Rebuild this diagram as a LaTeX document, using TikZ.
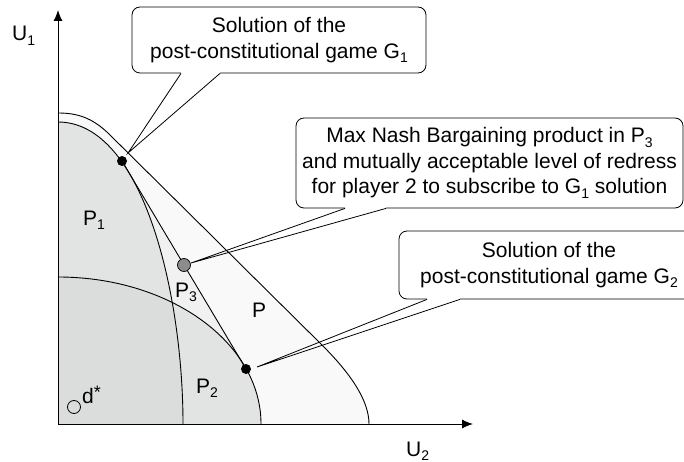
\documentclass[tikz,border=0pt]{standalone}
\usepackage{fontspec}
\setmainfont{Liberation Sans}
\usetikzlibrary{arrows.meta}
\newcommand\sbs[1]{\raisebox{-4.5pt}{\fontsize{14}{14}\selectfont #1}}
\newcommand\sps[1]{\raisebox{5pt}{\fontsize{18}{18}\selectfont #1}}
\definecolor{colP}{RGB}{249,249,249}
\definecolor{colA}{RGB}{226,227,227}
\definecolor{colOv}{RGB}{219,220,220}
\definecolor{colPthree}{RGB}{241,241,241}
\definecolor{colDot}{RGB}{140,140,140}
\begin{document}
\begin{tikzpicture}[x=1pt,y=-1pt,
  curve/.style={line width=0.9pt},
  axis/.style={line width=1pt,-{Latex[length=11pt,width=9pt]}},
  bigfont/.style={font=\fontsize{21}{25.5}\selectfont},
  callbox/.style={draw,line width=0.8pt,rounded corners=8pt,fill=white,align=center,inner sep=0pt,bigfont},
  pointer/.style={line width=0.8pt},
  gapline/.style={white,line width=2pt},
  soldot/.style={circle,fill=black,inner sep=0pt,minimum size=10pt},
  graydot/.style={circle,fill=colDot,draw=black,line width=0.7pt,inner sep=0pt,minimum size=13pt},
  opendot/.style={circle,draw=black,line width=0.8pt,inner sep=0pt,minimum size=13pt},
  lbl/.style={anchor=base west,inner sep=0pt,bigfont}]
\useasboundingbox (0,0) rectangle (684,462);
% coordinates
\coordinate (O) at (58,424);
\coordinate (ytip) at (58,10);
\coordinate (xtip) at (473,424);
\coordinate (d1) at (122,161);
\coordinate (d2) at (246,369);
\coordinate (gm) at (184,265);
% region P
\fill[colP] (O) -- (58,113) .. controls (78,113) and (92,118) .. (108,133) -- (322,345) .. controls (350,373) and (369,400) .. (369,424) -- cycle;
% region P3 (rest covered by P1, P2)
\fill[colPthree] (d1) -- (d2) -- (246,424) -- (58,424) -- (58,161) -- cycle;
% P1 and P2
\fill[colA] (O) -- (58,122) .. controls (143,122) and (183,294) .. (183,424) -- cycle;
\fill[colA] (O) -- (58,277) arc[start angle=-90,end angle=0,x radius=203,y radius=147] -- cycle;
\begin{scope}
  \clip (O) -- (58,122) .. controls (143,122) and (183,294) .. (183,424) -- cycle;
  \fill[colOv] (O) -- (58,277) arc[start angle=-90,end angle=0,x radius=203,y radius=147] -- cycle;
\end{scope}
% boundaries
\draw[curve] (58,113) .. controls (78,113) and (92,118) .. (108,133) -- (322,345) .. controls (350,373) and (369,400) .. (369,424);
\draw[curve] (58,122) .. controls (143,122) and (183,294) .. (183,424);
\draw[curve] (58,277) arc[start angle=-90,end angle=0,x radius=203,y radius=147];
\draw[curve] (d1) -- (d2);
% axes
\draw[axis] (O) -- (ytip);
\draw[axis] (O) -- (xtip);
\node[lbl] (u1) at (12,41) {U\sbs{1}};
\node[lbl] (u2) at (406,456) {U\sbs{2}};
% region labels
\node[lbl] (lp1) at (83,225) {P\sbs{1}};
\node[lbl] (lp3) at (175,297) {P\sbs{3}};
\node[lbl] (lp) at (252,317) {P};
\node[lbl] (lp2) at (196,393) {P\sbs{2}};
\node[opendot] (dstar) at (74,407) {};
\node[lbl] (ldstar) at (82,403) {d\sps{*}};
% callouts
\node[callbox,minimum width=294pt,minimum height=66pt] (box1) at (279,40) {Solution of the\\post-constitutional game G\sbs{1}};
\node[callbox,minimum width=387pt,minimum height=90pt] (box2) at (489.5,163) {Max Nash Bargaining product in P\sbs{3}\\and mutually acceptable level of redress\\for player 2 to subscribe to G\sbs{1} solution};
\node[callbox,minimum width=300pt,minimum height=68pt] (box3) at (549,265) {Solution of the\\post-constitutional game G\sbs{2}};
\coordinate (t1) at (128,153);
\coordinate (t2) at (191,263);
\coordinate (t3) at (257,367);
\coordinate (a1) at (181,0 |- box1.south);
\coordinate (b1) at (220,0 |- box1.south);
\coordinate (a2) at (345,0 |- box2.south);
\coordinate (b2) at (386,0 |- box2.south);
\coordinate (a3) at (427,0 |- box3.south);
\coordinate (b3) at (460,0 |- box3.south);
\draw[gapline] (a1) -- (b1);
\draw[gapline] (a2) -- (b2);
\draw[gapline] (a3) -- (b3);
\draw[pointer] (a1) -- (t1) -- (b1);
\draw[pointer] (a2) -- (t2) -- (b2);
\draw[pointer] (a3) -- (t3) -- (b3);
% dots
\node[soldot] (s1) at (d1) {};
\node[soldot] (s2) at (d2) {};
\node[graydot] (g) at (gm) {};
\end{tikzpicture}
\end{document}
